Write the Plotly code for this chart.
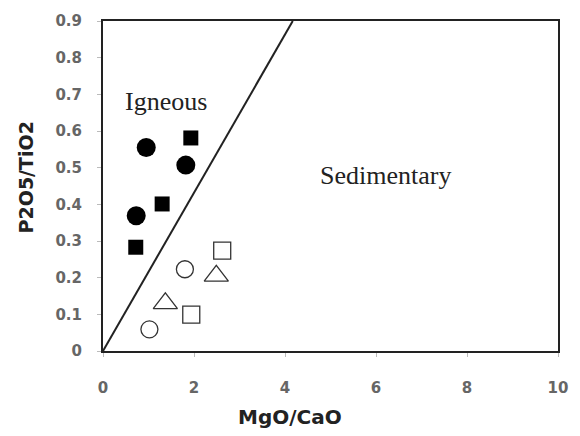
import plotly.graph_objects as go

# Data
ig_circle_x = [0.95, 1.82, 0.73]
ig_circle_y = [0.555, 0.507, 0.369]
ig_square_x = [1.93, 1.30, 0.72]
ig_square_y = [0.581, 0.401, 0.283]
sed_circle_x = [1.80, 1.02]
sed_circle_y = [0.223, 0.059]
sed_square_x = [2.62, 1.94]
sed_square_y = [0.274, 0.099]
sed_tri_x = [2.49, 1.37]
sed_tri_y = [0.205, 0.130]
line_x = [0, 4.17]
line_y = [0, 0.9]
x_ticks = [0, 2, 4, 6, 8, 10]
y_ticks = [0, 0.1, 0.2, 0.3, 0.4, 0.5, 0.6, 0.7, 0.8, 0.9]

fig = go.Figure()
fig.add_trace(go.Scatter(x=line_x, y=line_y, mode="lines",
                         line=dict(color="#222222", width=2), showlegend=False))
fig.add_trace(go.Scatter(x=ig_circle_x, y=ig_circle_y, mode="markers",
                         marker=dict(symbol="circle", size=19, color="black"), showlegend=False))
fig.add_trace(go.Scatter(x=ig_square_x, y=ig_square_y, mode="markers",
                         marker=dict(symbol="square", size=15, color="black"), showlegend=False))
open_line = dict(color="#333333", width=1.3)
fig.add_trace(go.Scatter(x=sed_circle_x, y=sed_circle_y, mode="markers",
                         marker=dict(symbol="circle", size=17, color="white", line=open_line), showlegend=False))
fig.add_trace(go.Scatter(x=sed_square_x, y=sed_square_y, mode="markers",
                         marker=dict(symbol="square", size=17, color="white", line=open_line), showlegend=False))
fig.add_trace(go.Scatter(x=sed_tri_x, y=sed_tri_y, mode="markers",
                         marker=dict(symbol="triangle-up", size=21, color="white", line=open_line), showlegend=False))

fig.add_annotation(x=1.39, y=0.68, text="Igneous", showarrow=False,
                   font=dict(family="Liberation Serif", size=26, color="#222222"))
fig.add_annotation(x=6.21, y=0.48, text="Sedimentary", showarrow=False,
                   font=dict(family="Liberation Serif", size=26, color="#222222"))

# axis titles (placed as in the reference, not centred)
fig.add_annotation(x=0.412, xref="paper", y=-0.199, yref="paper",
                   xanchor="center", yanchor="middle",
                   text="<b>MgO/CaO</b>", showarrow=False,
                   font=dict(family="DejaVu Sans", size=20, color="#222222"))
fig.add_annotation(x=-0.170, xref="paper", y=0.525, yref="paper",
                   xanchor="center", yanchor="middle", textangle=-90,
                   text="<b>P2O5/TiO2</b>", showarrow=False,
                   font=dict(family="DejaVu Sans", size=19, color="#222222"))

tickfont = dict(family="DejaVu Sans", size=15, color="#666666", weight="bold")
fig.update_xaxes(range=[0, 10], tickvals=x_ticks, ticktext=[str(v) for v in x_ticks],
                 showgrid=False, zeroline=False, showline=True, linecolor="#222222", linewidth=2,
                 mirror=True, ticks="outside", ticklen=4, tickcolor="#bbbbbb",
                 tickfont=tickfont, ticklabelstandoff=18)
fig.update_yaxes(range=[0, 0.9], tickvals=y_ticks, ticktext=["0"] + ["%.1f" % v for v in y_ticks[1:]],
                 showgrid=False, zeroline=False, showline=True, linecolor="#222222", linewidth=2,
                 mirror=True, ticks="outside", ticklen=4, tickcolor="#bbbbbb",
                 tickfont=tickfont, ticklabelstandoff=12)
fig.update_layout(width=580, height=436, margin=dict(l=103, r=18, t=14, b=85),
                  plot_bgcolor="white", paper_bgcolor="white")
fig.write_html("out.html")
